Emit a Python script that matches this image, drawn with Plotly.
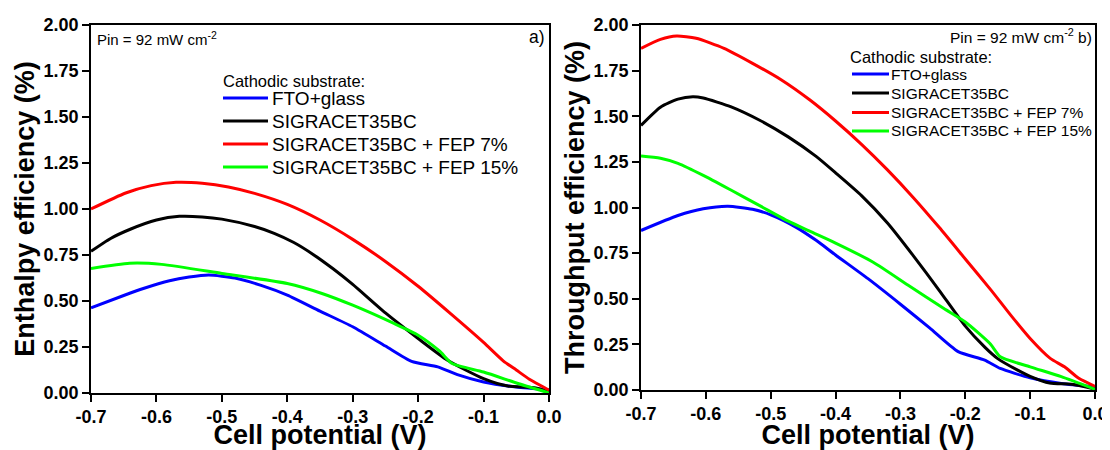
import plotly.graph_objects as go

# ---------------- data ----------------
series_names = ["FTO+glass", "SIGRACET35BC", "SIGRACET35BC + FEP 7%", "SIGRACET35BC + FEP 15%"]
series_colors = ["#0000FF", "#000000", "#FF0000", "#00FF00"]

# panel a) enthalpy efficiency (%)
a_fto_v = [-0.70, -0.65, -0.62, -0.58, -0.55, -0.52, -0.48, -0.44, -0.40, -0.35, -0.30, -0.25, -0.21, -0.17, -0.14, -0.10, -0.05, 0.0]
a_fto_e = [0.463, 0.53, 0.568, 0.61, 0.63, 0.641, 0.625, 0.585, 0.532, 0.445, 0.36, 0.255, 0.172, 0.142, 0.10, 0.06, 0.033, 0.018]
a_sig_v = [-0.70, -0.67, -0.64, -0.60, -0.565, -0.53, -0.50, -0.45, -0.42, -0.39, -0.36, -0.33, -0.30, -0.25, -0.20, -0.155, -0.10, -0.063, -0.02, 0.0]
a_sig_e = [0.77, 0.84, 0.89, 0.94, 0.96, 0.957, 0.945, 0.905, 0.868, 0.818, 0.752, 0.675, 0.59, 0.435, 0.296, 0.178, 0.078, 0.038, 0.027, 0.005]
a_fep7_v = [-0.70, -0.647, -0.608, -0.57, -0.53, -0.49, -0.45, -0.40, -0.35, -0.30, -0.25, -0.20, -0.15, -0.10, -0.07, -0.05, -0.03, -0.01, 0.0]
a_fep7_e = [1.00, 1.087, 1.127, 1.145, 1.14, 1.12, 1.085, 1.025, 0.94, 0.835, 0.715, 0.58, 0.43, 0.275, 0.175, 0.125, 0.075, 0.035, 0.015]
a_fep15_v = [-0.70, -0.641, -0.592, -0.50, -0.40, -0.347, -0.30, -0.237, -0.20, -0.167, -0.148, -0.10, -0.046, 0.0]
a_fep15_e = [0.677, 0.705, 0.699, 0.65, 0.595, 0.541, 0.477, 0.378, 0.314, 0.227, 0.16, 0.114, 0.05, 0.0]

# panel b) throughput efficiency (%)
b_fto_v = [-0.70, -0.643, -0.604, -0.566, -0.528, -0.50, -0.46, -0.43, -0.40, -0.35, -0.30, -0.255, -0.211, -0.17, -0.146, -0.10, -0.052, 0.0]
b_fto_e = [0.874, 0.956, 0.993, 1.007, 0.99, 0.96, 0.89, 0.82, 0.74, 0.61, 0.47, 0.34, 0.21, 0.164, 0.118, 0.067, 0.036, 0.018]
b_sig_v = [-0.70, -0.67, -0.643, -0.62, -0.604, -0.56, -0.517, -0.473, -0.43, -0.40, -0.36, -0.32, -0.28, -0.24, -0.20, -0.17, -0.15, -0.12, -0.10, -0.07, -0.036, 0.0]
b_sig_e = [1.45, 1.55, 1.594, 1.607, 1.60, 1.55, 1.478, 1.387, 1.28, 1.19, 1.065, 0.915, 0.735, 0.545, 0.35, 0.235, 0.172, 0.11, 0.075, 0.038, 0.031, 0.005]
b_fep7_v = [-0.70, -0.67, -0.645, -0.615, -0.572, -0.528, -0.484, -0.44, -0.40, -0.36, -0.32, -0.28, -0.24, -0.20, -0.16, -0.13, -0.10, -0.069, -0.047, -0.025, 0.0]
b_fep7_e = [1.872, 1.921, 1.94, 1.927, 1.872, 1.79, 1.70, 1.59, 1.474, 1.346, 1.206, 1.054, 0.89, 0.718, 0.546, 0.41, 0.282, 0.173, 0.127, 0.064, 0.02]
b_fep15_v = [-0.70, -0.67, -0.643, -0.604, -0.56, -0.517, -0.473, -0.44, -0.40, -0.342, -0.288, -0.233, -0.20, -0.162, -0.146, -0.10, -0.052, 0.0]
b_fep15_e = [1.282, 1.27, 1.242, 1.176, 1.093, 1.01, 0.925, 0.87, 0.805, 0.70, 0.574, 0.446, 0.373, 0.255, 0.182, 0.127, 0.073, 0.004]

x_tickvals = [-0.7, -0.6, -0.5, -0.4, -0.3, -0.2, -0.1, 0.0]
x_ticktext = ["-0.7", "-0.6", "-0.5", "-0.4", "-0.3", "-0.2", "-0.1", "0.0"]
y_tickvals = [0, 0.25, 0.5, 0.75, 1.0, 1.25, 1.5, 1.75, 2.0]
y_ticktext = ["0.00", "0.25", "0.50", "0.75", "1.00", "1.25", "1.50", "1.75", "2.00"]

legend_title = "Cathodic substrate:"
pin_text = "Pin = 92 mW cm<sup>-2</sup>"

# ---------------- layout geometry (screen pixels; page body adds an 8px offset) ----------------
FONT = "Liberation Sans, Arial, sans-serif"
OFF = 8
W, H = 1110 - OFF, 450 - OFF
PL, PR, PT, PB = 91 - OFF, 1095 - OFF, 25 - OFF, 393 - OFF   # plot-area box in figure px
PW, PH = PR - PL, PB - PT

def sx(p):
    """screen x pixel -> paper fraction"""
    return (p - OFF - PL) / PW

def sy(p):
    """screen y pixel -> paper fraction"""
    return (PB - (p - OFF)) / PH

fig = go.Figure()
panel_a = [(a_fto_v, a_fto_e), (a_sig_v, a_sig_e), (a_fep7_v, a_fep7_e), (a_fep15_v, a_fep15_e)]
panel_b = [(b_fto_v, b_fto_e), (b_sig_v, b_sig_e), (b_fep7_v, b_fep7_e), (b_fep15_v, b_fep15_e)]

for i, (v, e) in enumerate(panel_a):
    fig.add_trace(go.Scatter(x=v, y=e, mode="lines", name=series_names[i], showlegend=False,
                             line=dict(color=series_colors[i], width=3, shape="spline", smoothing=0.6),
                             xaxis="x", yaxis="y"))
for i, (v, e) in enumerate(panel_b):
    fig.add_trace(go.Scatter(x=v, y=e, mode="lines", name=series_names[i], showlegend=False,
                             line=dict(color=series_colors[i], width=3, shape="spline", smoothing=0.6),
                             xaxis="x2", yaxis="y2"))

bold = lambda s: "<b>%s</b>" % s
axis_common = dict(showline=True, linecolor="black", linewidth=1.5, mirror=True,
                   ticks="outside", ticklen=7, tickwidth=1.5, tickcolor="black",
                   showgrid=False, zeroline=False, automargin=False,
                   tickfont=dict(family=FONT, size=18, color="black"))
title_font = dict(family=FONT, size=27, color="black")

xcommon = dict(axis_common, range=[-0.7, 0.0], tickvals=x_tickvals,
               ticktext=[bold(t) for t in x_ticktext],
               title=dict(text=bold("Cell potential (V)"), font=title_font, standoff=5))
ycommon = dict(axis_common, range=[0, 2.0], tickvals=y_tickvals,
               ticktext=[bold(t) for t in y_ticktext])

annotations = [
    dict(text=pin_text, x=sx(95), y=sy(39), xanchor="left", yanchor="middle",
         font=dict(family=FONT, size=15, color="black")),
    dict(text="a)", x=sx(547), y=sy(37), xanchor="right", yanchor="middle",
         font=dict(family=FONT, size=17.5, color="black")),
    dict(text=pin_text + " b)", x=sx(1094), y=sy(36), xanchor="right", yanchor="middle",
         font=dict(family=FONT, size=15.5, color="black")),
    dict(text=legend_title, x=sx(221), y=sy(81), xanchor="left", yanchor="middle",
         font=dict(family=FONT, size=16.5, color="black")),
    dict(text=legend_title, x=sx(848), y=sy(57), xanchor="left", yanchor="middle",
         font=dict(family=FONT, size=16.5, color="black")),
]
shapes = []
rows_a = [98, 121, 144, 167]
rows_b = [74, 93, 112.5, 131]
for i in range(4):
    annotations.append(dict(text=series_names[i], x=sx(270), y=sy(rows_a[i]), xanchor="left", yanchor="middle",
                            font=dict(family=FONT, size=19, color="black")))
    shapes.append(dict(type="line", xref="paper", yref="paper", x0=sx(223), x1=sx(268),
                       y0=sy(rows_a[i]), y1=sy(rows_a[i]), line=dict(color=series_colors[i], width=3)))
    annotations.append(dict(text=series_names[i], x=sx(889), y=sy(rows_b[i]), xanchor="left", yanchor="middle",
                            font=dict(family=FONT, size=15.5, color="black")))
    shapes.append(dict(type="line", xref="paper", yref="paper", x0=sx(852), x1=sx(889),
                       y0=sy(rows_b[i]), y1=sy(rows_b[i]), line=dict(color=series_colors[i], width=3)))
for a in annotations:
    a.update(xref="paper", yref="paper", showarrow=False)

fig.update_layout(
    width=W, height=H,
    margin=dict(l=PL, r=W - PR, t=PT, b=H - PB, pad=0),
    paper_bgcolor="white", plot_bgcolor="white",
    font=dict(family=FONT, color="black"),
    xaxis=dict(xcommon, domain=[sx(91), sx(549)], anchor="y"),
    yaxis=dict(ycommon, domain=[sy(393), sy(25)], anchor="x",
               title=dict(text=bold("Enthalpy efficiency (%)"), font=title_font, standoff=1)),
    xaxis2=dict(xcommon, domain=[sx(641), sx(1095)], anchor="y2"),
    yaxis2=dict(ycommon, domain=[sy(390), sy(25)], anchor="x2",
                title=dict(text=bold("Throughput efficiency (%)"), font=title_font, standoff=1)),
    showlegend=False,
    annotations=annotations,
    shapes=shapes,
)

fig.write_html("out.html")
